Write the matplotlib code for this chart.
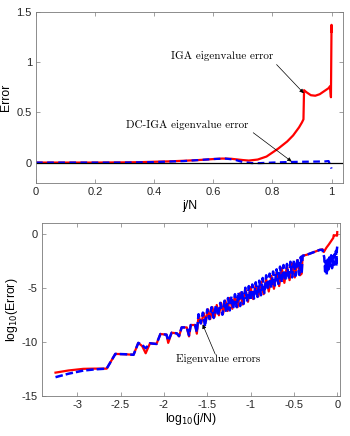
import matplotlib
matplotlib.use("Agg")
import matplotlib.pyplot as plt

plt.rcParams['axes.unicode_minus'] = False
plt.rcParams['font.family'] = ['Liberation Sans', 'DejaVu Sans']

# ---------------- top panel data (j/N vs error) ----------------
iga_x = [0, 0.1, 0.2, 0.3, 0.35, 0.4, 0.45, 0.5, 0.55, 0.6, 0.63, 0.66, 0.7, 0.72,
         0.75, 0.78, 0.8, 0.82, 0.85, 0.87, 0.89, 0.9, 0.905, 0.907, 0.915, 0.93,
         0.945, 0.96, 0.975, 0.99, 0.995, 0.998, 1.0, 1.0]
iga_y = [0, 0, 0, 0.002, 0.004, 0.008, 0.012, 0.018, 0.025, 0.035, 0.04, 0.038, 0.025, 0.02,
         0.03, 0.06, 0.1, 0.14, 0.21, 0.27, 0.35, 0.4, 0.43, 0.72, 0.7, 0.67,
         0.665, 0.68, 0.71, 0.74, 0.76, 0.65, 1.37, 1.3]

dc_x = [0, 0.3, 0.4, 0.5, 0.55, 0.6, 0.64, 0.67, 0.7, 0.73, 0.76, 0.8, 0.85, 0.9,
        0.95, 0.98, 0.99, 0.995, 1.0]
dc_y = [0, 0, 0.005, 0.015, 0.025, 0.035, 0.04, 0.03, 0.005, -0.005, -0.005, 0.0, 0.005, 0.008,
        0.01, 0.012, 0.015, -0.02, -0.06]

top_xticks = [0, 0.2, 0.4, 0.6, 0.8, 1]
top_xticklabels = ['0', '0.2', '0.4', '0.6', '0.8', '1']
top_yticks = [0, 0.5, 1, 1.5]
top_yticklabels = ['0', '0.5', '1', '1.5']

# ---------------- bottom panel data (log10 j/N vs log10 error) ----------------
iga_logx = [-3.25, -3.1, -2.93, -2.8, -2.66, -2.56, -2.45, -2.35, -2.295, -2.25, -2.21,
            -2.16, -2.085, -2.04, -1.97, -1.95, -1.91, -1.85, -1.825, -1.795, -1.736,
            -1.71, -1.69, -1.64, -1.62,
            -1.60, -1.57, -1.54, -1.515, -1.49, -1.465, -1.44, -1.415, -1.39, -1.365,
            -1.34, -1.315, -1.29, -1.265, -1.24, -1.21, -1.18, -1.15, -1.12, -1.09,
            -1.06, -1.03, -1.0, -0.97, -0.94, -0.91, -0.88, -0.85, -0.82, -0.79,
            -0.76, -0.73, -0.70, -0.67, -0.64, -0.61, -0.58, -0.55, -0.52, -0.49,
            -0.46, -0.43, -0.41,
            -0.40, -0.35, -0.30, -0.25, -0.20, -0.17, -0.155, -0.125, -0.097, -0.07,
            -0.046, -0.041, -0.03, -0.01, -0.004, -0.002, 0.0]
iga_logy = [-12.85, -12.65, -12.5, -12.48, -12.48, -11.12, -11.15, -11.2, -10.1, -10.4, -11.06,
            -10.14, -10.2, -9.28, -9.34, -10.1, -9.16, -9.22, -9.5, -8.67, -8.67,
            -9.5, -8.45, -8.45, -9.25,
            -7.6, -8.3, -7.35, -8.1, -7.0, -7.9, -6.8, -7.7, -6.6, -7.55,
            -6.4, -7.35, -6.2, -7.15, -5.95, -6.95, -5.75, -6.8, -5.5, -6.55,
            -5.1, -6.3, -4.95, -6.05, -4.7, -5.8, -4.45, -5.6, -4.2, -5.35,
            -3.9, -5.1, -3.6, -4.85, -3.2, -4.55, -2.95, -4.3, -2.75, -4.05,
            -2.45, -3.85, -3.7,
            -2.05, -1.95, -1.8, -1.65, -1.5, -1.45, -1.7, -1.3, -1.0, -0.68,
            -0.4, -0.14, -0.18, -0.14, -0.12, -0.19, 0.14]

dc_logx = [-3.25, -3.1, -2.93, -2.8, -2.66, -2.56, -2.45, -2.35, -2.295, -2.25, -2.21,
           -2.16, -2.085, -2.04, -1.97, -1.95, -1.91, -1.85, -1.825, -1.795, -1.736,
           -1.71, -1.69, -1.64, -1.62,
           -1.60, -1.575, -1.55, -1.525, -1.50, -1.475, -1.45, -1.425, -1.40, -1.375,
           -1.35, -1.325, -1.30, -1.28, -1.26, -1.24, -1.22, -1.20, -1.18, -1.16,
           -1.14, -1.12, -1.10, -1.08, -1.06, -1.04, -1.02, -1.00, -0.98, -0.96,
           -0.94, -0.92, -0.90, -0.88, -0.86, -0.84, -0.82, -0.80, -0.78, -0.76,
           -0.74, -0.72, -0.70, -0.68, -0.66, -0.64, -0.62, -0.60, -0.58, -0.56,
           -0.54, -0.52, -0.50, -0.48, -0.46, -0.44, -0.42, -0.41, -0.40,
           -0.35, -0.30, -0.25, -0.20, -0.17, -0.15, -0.14, -0.13, -0.12, -0.11,
           -0.10, -0.09, -0.08, -0.07, -0.06, -0.05, -0.04, -0.03, -0.02, -0.015,
           -0.01, -0.005, 0.0]
dc_logy = [-13.27, -12.95, -12.66, -12.55, -12.48, -11.12, -11.15, -11.2, -10.1, -10.3, -10.6,
           -10.14, -10.2, -9.28, -9.34, -9.9, -9.16, -9.22, -9.47, -8.67, -8.67,
           -9.4, -8.45, -8.45, -9.1,
           -7.45, -8.3, -7.3, -8.6, -7.0, -7.9, -6.8, -7.8, -6.6, -7.6,
           -6.4, -7.5, -6.2, -7.3, -5.95, -7.1, -5.8, -6.95, -5.6, -6.8,
           -5.45, -6.7, -5.25, -6.5, -5.0, -6.3, -4.85, -6.15, -4.7, -6.0,
           -4.5, -5.85, -4.35, -5.7, -4.1, -5.5, -3.85, -5.2, -3.7, -5.0,
           -3.5, -4.8, -3.3, -4.65, -3.05, -4.5, -2.9, -4.35, -2.8, -4.2,
           -2.6, -4.05, -2.45, -3.9, -2.3, -3.8, -2.15, -3.7, -2.05,
           -1.95, -1.8, -1.65, -1.5, -1.5, -2.2, -3.5, -2.6, -3.8, -2.4,
           -3.3, -2.2, -3.0, -2.0, -3.2, -2.1, -2.9, -1.9, -2.7, -1.6,
           -3.0, -1.5, -1.2]

bot_xticks = [-3, -2.5, -2, -1.5, -1, -0.5, 0]
bot_xticklabels = ['-3', '-2.5', '-2', '-1.5', '-1', '-0.5', '0']
bot_yticks = [-15, -10, -5, 0]
bot_yticklabels = ['-15', '-10', '-5', '0']

RED = '#ff0000'
BLUE = '#0000ff'

fig = plt.figure(figsize=(3.5, 4.36), dpi=100)
ax1 = fig.add_axes([0.103, 0.581, 0.878, 0.392])
ax2 = fig.add_axes([0.119, 0.092, 0.852, 0.397])

serif = dict(family='cmr10', size=8)

def style(ax):
    for s in ax.spines.values():
        s.set_color('#7a7a7a')
        s.set_linewidth(0.6)
    ax.tick_params(direction='in', length=3, width=0.5, colors='#7a7a7a',
                   labelcolor='#262626', labelsize=8, top=True, right=True, pad=3)

# top panel
ax1.plot(iga_x, iga_y, color=RED, lw=1.6)
ax1.plot(dc_x, dc_y, color=BLUE, lw=1.6, ls=(0, (3, 2)))
ax1.axhline(0, color='k', lw=0.9)
ax1.set_xlim(0, 1.04)
ax1.set_ylim(-0.2, 1.5)
ax1.set_xticks(top_xticks)
ax1.set_xticklabels(top_xticklabels)
ax1.set_yticks(top_yticks)
ax1.set_yticklabels(top_yticklabels)
ax1.set_xlabel('j/N', fontsize=8.8, labelpad=2)
ax1.set_ylabel('Error', fontsize=8.8, labelpad=3)
style(ax1)
arr = dict(arrowstyle='-|>', lw=0.5, color='k', mutation_scale=6, shrinkA=0, shrinkB=0)
ax1.text(0.628, 1.065, 'IGA eigenvalue error', ha='center', va='center', **serif)
ax1.annotate('', xy=(0.906, 0.69), xytext=(0.814, 0.975), arrowprops=arr)
ax1.text(0.512, 0.372, 'DC-IGA eigenvalue error', ha='center', va='center', **serif)
ax1.annotate('', xy=(0.865, 0.01), xytext=(0.735, 0.297), arrowprops=arr)

# bottom panel
ax2.plot(iga_logx, iga_logy, color=RED, lw=1.6)
ax2.plot(dc_logx, dc_logy, color=BLUE, lw=1.8, ls=(0, (3, 1.2)))
ax2.set_xlim(-3.41, 0.03)
ax2.set_ylim(-15, 1)
ax2.set_xticks(bot_xticks)
ax2.set_xticklabels(bot_xticklabels)
ax2.set_yticks(bot_yticks)
ax2.set_yticklabels(bot_yticklabels)
ax2.set_xlabel(r'log$_{10}$(j/N)', fontsize=8.8, labelpad=1)
ax2.set_ylabel(r'log$_{10}$(Error)', fontsize=8.8, labelpad=1)
style(ax2)
ax2.text(-1.373, -11.6, 'Eigenvalue errors', ha='center', va='center', **serif)
ax2.annotate('', xy=(-1.553, -8.39), xytext=(-1.41, -11.1), arrowprops=arr)

fig.savefig('out.png', dpi=100)
